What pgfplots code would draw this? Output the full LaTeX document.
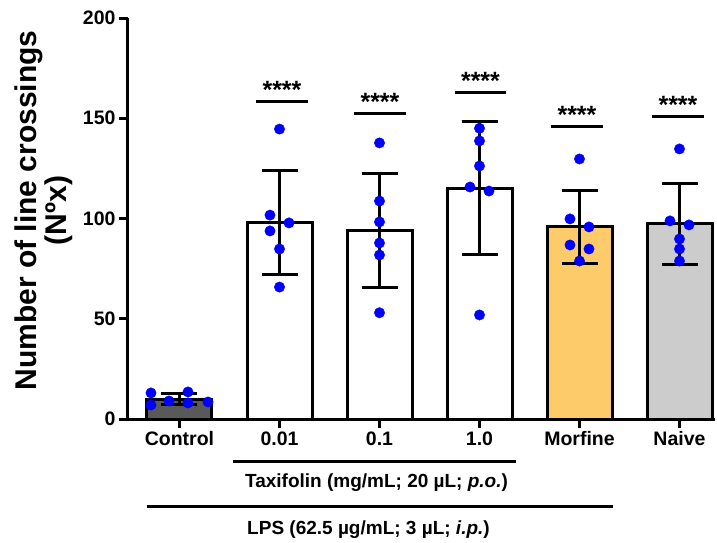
\documentclass[border=0pt]{standalone}
\usepackage{fontspec}
\setmainfont{Liberation Sans}
\usepackage{pgfplots}
\pgfplotsset{compat=1.18}
\definecolor{ctrl}{HTML}{595959}
\definecolor{morf}{HTML}{FECB6A}
\definecolor{naive}{HTML}{CCCCCC}
\pgfplotsset{mybar/.style={ybar, bar width=0.65, bar shift=0pt, draw=black, line width=3pt,
  error bars/.cd, y dir=both, y explicit,
  error bar style={line width=3pt, black},
  error mark options={rotate=90, mark size=18pt, line width=3pt, black}}}
\begin{document}
\begin{tikzpicture}
\useasboundingbox (-128pt,-123pt) rectangle (589pt,419pt);
\begin{axis}[
  at={(0pt,0pt)}, anchor=south west,
  scale only axis, width=587pt, height=401pt,
  xmin=-0.515, xmax=5.355, ymin=0, ymax=200,
  axis x line=bottom, axis y line=left,
  axis line style={line width=3pt, -},
  clip=false,
  xtick={0,...,5}, xticklabels={Control,0.01,0.1,1.0,Morfine,Naive},
  ytick={0,50,...,200},
  every tick/.style={draw=black, line width=3pt},
  major tick length=9pt, tick align=outside,
  /pgf/number format/assume math mode=true,
  ticklabel style={font=\fontsize{19.5}{22}\selectfont\bfseries},
  ylabel={Number of line crossings\\(Nºx)},
  ylabel style={at={(axis cs:-1.355,104)}, anchor=center, rotate=0, align=center,
    font=\fontsize{30}{30}\selectfont\bfseries},
]
\addplot[fill=ctrl, mybar] coordinates {(0,9.8) +- (0,2.8)};
\addplot[fill=white, mybar] coordinates {(1,98) +- (0,26)};
\addplot[fill=white, mybar] coordinates {(2,94) +- (0,28.5)};
\addplot[fill=white, mybar] coordinates {(3,115.2) +- (0,33.4)};
\addplot[fill=morf, mybar] coordinates {(4,96) +- (0,18.2)};
\addplot[fill=naive, mybar] coordinates {(5,97.3) +- (0,20)};
\addplot[only marks, mark=*, mark size=5.2pt, color=blue, mark options={draw=blue, fill=blue}] coordinates {
 (-0.285,13) (-0.285,7) (-0.105,9) (0.085,13.5) (0.085,8) (0.285,8.5)
 (1,144.6) (0.905,101.7) (1.095,97.8) (0.905,93.8) (1,84.8) (1,65.8)
 (2,137.7) (2,108.7) (2,98.3) (2,87.8) (2,81.8) (2,53)
 (3,145) (3,138.7) (3,126.2) (2.905,115.7) (3.095,113.7) (3,51.9)
 (4,129.7) (3.905,99.8) (4.095,95.8) (3.905,86.8) (4.095,84.8) (4,78.8)
 (5,134.7) (4.905,98.8) (5.095,96.8) (5,89.8) (5,84.8) (5,78.8)
};
% significance
\draw[line width=3pt] (axis cs:0.765,158.6) -- (axis cs:1.285,158.6);
\draw[line width=3pt] (axis cs:1.745,152.6) -- (axis cs:2.265,152.6);
\draw[line width=3pt] (axis cs:2.755,163) -- (axis cs:3.265,163);
\draw[line width=3pt] (axis cs:3.715,146) -- (axis cs:4.235,146);
\draw[line width=3pt] (axis cs:4.725,151) -- (axis cs:5.245,151);
\tikzset{stars/.style={anchor=base, inner sep=0pt, yshift=2.5pt, font=\fontsize{25}{25}\selectfont\bfseries}}
\node[stars] at (axis cs:1.025,158.6) {****};
\node[stars] at (axis cs:2.005,152.6) {****};
\node[stars] at (axis cs:3.01,163) {****};
\node[stars] at (axis cs:3.975,146) {****};
\node[stars] at (axis cs:4.985,151) {****};
% group annotations
\draw[line width=3pt] (axis cs:0.535,-21.4) -- (axis cs:3.365,-21.4);
\node[anchor=base, inner sep=0pt, font=\fontsize{19}{22}\selectfont\bfseries] at (axis cs:1.97,-34.4) {Taxifolin (mg/mL; 20 µL; \textit{p.o.})};
\draw[line width=3pt] (axis cs:-0.325,-43.4) -- (axis cs:4.335,-43.4);
\node[anchor=base, inner sep=0pt, font=\fontsize{19}{22}\selectfont\bfseries] at (axis cs:1.89,-57.4) {LPS (62.5 µg/mL; 3 µL; \textit{i.p.})};
\end{axis}
\end{tikzpicture}
\end{document}
